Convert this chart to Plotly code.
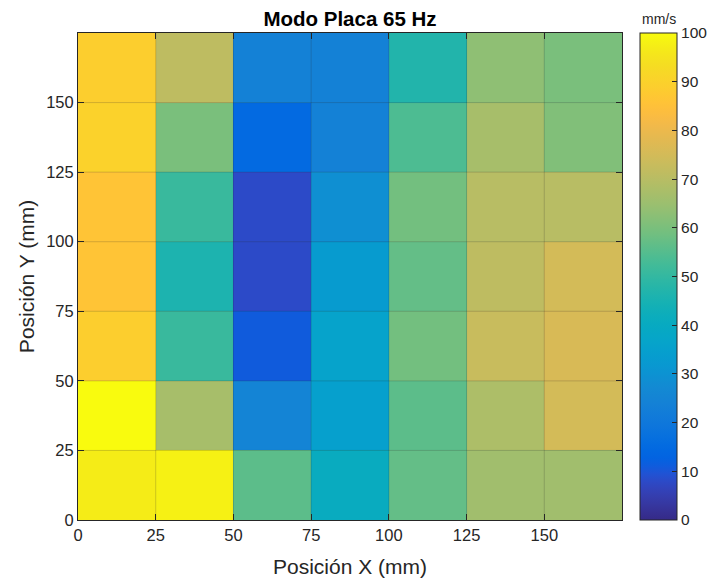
import plotly.graph_objects as go

# cell centres (mm)
x_pos = [12.5, 37.5, 62.5, 87.5, 112.5, 137.5, 162.5]
y_pos = [12.5, 37.5, 62.5, 87.5, 112.5, 137.5, 162.5]

# velocity (mm/s), rows from y=0-25 up to y=150-175
vel = [
    [97, 98, 56, 41, 57, 66, 66],
    [100, 67, 25, 35, 56, 68, 75],
    [89, 51, 11, 36, 59, 73, 76],
    [86, 46, 8, 33, 57, 71, 75],
    [86, 51, 8, 29, 59, 70, 70],
    [90, 60, 15, 24, 54, 67, 61],
    [89, 71, 24, 24, 47, 63, 60],
]

tick_vals = [0, 25, 50, 75, 100, 125, 150]
cbar_ticks = [0, 10, 20, 30, 40, 50, 60, 70, 80, 90, 100]

parula_rgb = [
    (0.2081, 0.1663, 0.5292), (0.2116, 0.1898, 0.5777), (0.2123, 0.2138, 0.6270),
    (0.2081, 0.2386, 0.6771), (0.1959, 0.2645, 0.7279), (0.1707, 0.2919, 0.7792),
    (0.1253, 0.3242, 0.8303), (0.0591, 0.3598, 0.8683), (0.0117, 0.3875, 0.8820),
    (0.0060, 0.4086, 0.8828), (0.0165, 0.4266, 0.8786), (0.0329, 0.4430, 0.8720),
    (0.0498, 0.4586, 0.8641), (0.0629, 0.4737, 0.8554), (0.0723, 0.4887, 0.8467),
    (0.0779, 0.5040, 0.8384), (0.0793, 0.5200, 0.8312), (0.0749, 0.5375, 0.8263),
    (0.0641, 0.5570, 0.8240), (0.0488, 0.5772, 0.8228), (0.0343, 0.5966, 0.8199),
    (0.0265, 0.6137, 0.8135), (0.0239, 0.6287, 0.8038), (0.0231, 0.6418, 0.7913),
    (0.0228, 0.6535, 0.7768), (0.0267, 0.6642, 0.7607), (0.0384, 0.6743, 0.7436),
    (0.0590, 0.6838, 0.7254), (0.0843, 0.6928, 0.7062), (0.1133, 0.7015, 0.6859),
    (0.1453, 0.7098, 0.6646), (0.1801, 0.7177, 0.6424), (0.2178, 0.7250, 0.6193),
    (0.2586, 0.7317, 0.5954), (0.3022, 0.7376, 0.5712), (0.3482, 0.7424, 0.5473),
    (0.3953, 0.7459, 0.5244), (0.4420, 0.7481, 0.5033), (0.4871, 0.7491, 0.4840),
    (0.5300, 0.7491, 0.4661), (0.5709, 0.7485, 0.4494), (0.6099, 0.7473, 0.4337),
    (0.6473, 0.7456, 0.4188), (0.6834, 0.7435, 0.4044), (0.7184, 0.7411, 0.3905),
    (0.7525, 0.7384, 0.3768), (0.7858, 0.7356, 0.3633), (0.8185, 0.7327, 0.3498),
    (0.8507, 0.7299, 0.3360), (0.8824, 0.7274, 0.3217), (0.9139, 0.7258, 0.3063),
    (0.9450, 0.7261, 0.2886), (0.9739, 0.7314, 0.2666), (0.9938, 0.7455, 0.2403),
    (0.9990, 0.7653, 0.2164), (0.9955, 0.7861, 0.1967), (0.9880, 0.8066, 0.1794),
    (0.9789, 0.8271, 0.1633), (0.9697, 0.8481, 0.1475), (0.9626, 0.8705, 0.1309),
    (0.9589, 0.8949, 0.1132), (0.9598, 0.9218, 0.0948), (0.9661, 0.9514, 0.0755),
    (0.9763, 0.9831, 0.0538),
]
n = len(parula_rgb)
parula = [
    [i / (n - 1), "rgb(%d,%d,%d)" % (round(r * 255), round(g * 255), round(b * 255))]
    for i, (r, g, b) in enumerate(parula_rgb)
]

ink = "#262626"
font_name = "Liberation Sans, Arial, sans-serif"

# the page body adds an 8px margin, so the figure is 8px smaller
W, H = 707, 575
L, T = 70, 25
PW, PH = 544, 487

fig = go.Figure()

fig.add_trace(go.Heatmap(
    x=x_pos,
    y=y_pos,
    z=vel,
    zmin=0,
    zmax=100,
    colorscale=parula,
    showscale=True,
    colorbar=dict(
        x=1.033,
        xanchor="left",
        y=0.5,
        yanchor="middle",
        len=1,
        lenmode="fraction",
        thickness=37,
        thicknessmode="pixels",
        outlinewidth=1,
        outlinecolor=ink,
        tickvals=cbar_ticks,
        ticks="inside",
        ticklen=5,
        tickcolor=ink,
        tickfont=dict(size=15.5, color=ink),
        xpad=0,
        ypad=0,
    ),
))

# grid lines drawn over the cells, like MATLAB's grid on
for v in tick_vals[1:]:
    fig.add_shape(type="line", xref="x", yref="y", x0=v, x1=v, y0=0, y1=175,
                  line=dict(color="rgba(38,38,38,0.2)", width=1), layer="above")
    fig.add_shape(type="line", xref="x", yref="y", x0=0, x1=175, y0=v, y1=v,
                  line=dict(color="rgba(38,38,38,0.2)", width=1), layer="above")

# colorbar unit label
fig.add_annotation(
    text="mm/s",
    xref="paper", yref="paper",
    x=(659 - 78) / PW, y=1.0,
    yshift=4,
    xanchor="center", yanchor="bottom",
    showarrow=False,
    font=dict(size=14, color=ink),
)

fig.update_layout(
    width=W,
    height=H,
    margin=dict(l=L, r=W - L - PW, t=T, b=H - T - PH, autoexpand=False),
    paper_bgcolor="white",
    plot_bgcolor="white",
    font=dict(family=font_name, color=ink),
    title=dict(
        text="<b>Modo Placa 65 Hz</b>",
        x=(L + PW / 2) / W,
        xanchor="center",
        y=1 - 11 / H,
        yanchor="middle",
        font=dict(size=20.5, color="black"),
    ),
)

fig.update_xaxes(
    range=[0, 175],
    tickvals=tick_vals,
    ticks="inside",
    ticklen=6,
    tickcolor=ink,
    showline=True,
    linewidth=1,
    linecolor=ink,
    mirror="ticks",
    showgrid=False,
    zeroline=False,
    automargin=False,
    tickfont=dict(size=16.5, color=ink),
    title=dict(text="Posición X (mm)", font=dict(size=21, color=ink), standoff=16),
)

fig.update_yaxes(
    range=[0, 175],
    tickvals=tick_vals,
    ticks="inside",
    ticklen=6,
    tickcolor=ink,
    showline=True,
    linewidth=1,
    linecolor=ink,
    mirror="ticks",
    showgrid=False,
    zeroline=False,
    automargin=False,
    tickfont=dict(size=16.5, color=ink),
    title=dict(text="Posición Y (mm)", font=dict(size=21, color=ink), standoff=5),
)

fig.write_html("out.html")
